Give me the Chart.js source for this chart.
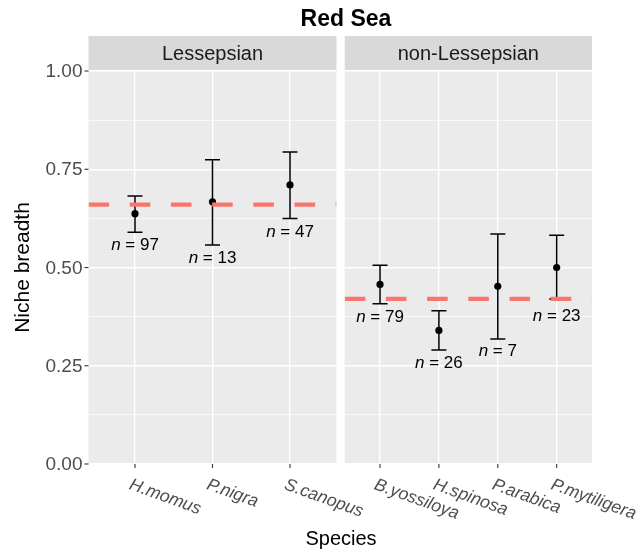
<!DOCTYPE html>
<html><head><meta charset="utf-8">
<script src="https://cdn.jsdelivr.net/npm/chart.js@4.4.1/dist/chart.umd.min.js"></script>
<style>
html,body{margin:0;padding:0;background:#fff;}
#wrap{position:relative;width:643px;height:555px;}
#wrap canvas{position:absolute;left:0;top:0;}
</style></head><body>
<div id="wrap"><canvas id="c1" width="643" height="555"></canvas><canvas id="c2" width="643" height="555"></canvas></div>
<script>
// ---- data ----
const plotTitle = "Red Sea";
const facetLabels = ["Lessepsian", "non-Lessepsian"];
const xTitle = "Species";
const yTitle = "Niche breadth";
const yMajorTicks = [0, 0.25, 0.5, 0.75, 1];
const yTickLabels = ["0.00", "0.25", "0.50", "0.75", "1.00"];
const yMinorTicks = [0.125, 0.375, 0.625, 0.875];

const lessSpecies = ["H.momus", "P.nigra", "S.canopus"];
const lessMean = [0.637, 0.667, 0.710];
const lessLower = [0.590, 0.557, 0.625];
const lessUpper = [0.682, 0.774, 0.794];
const lessN = [97, 13, 47];
const lessLabelY = [0.557, 0.524, 0.590];
const lessOverall = 0.660;

const nonSpecies = ["B.yossiloya", "H.spinosa", "P.arabica", "P.mytiligera"];
const nonMean = [0.457, 0.340, 0.452, 0.500];
const nonLower = [0.408, 0.290, 0.318, 0.420];
const nonUpper = [0.506, 0.390, 0.585, 0.582];
const nonN = [79, 26, 7, 23];
const nonLabelY = [0.373, 0.257, 0.287, 0.377];
const nonOverall = 0.420;

// ---- style ----
const FONT = "'Liberation Sans', Arial, Helvetica, sans-serif";
const W = 643, H = 555;
const PANEL_TOP = 71, PANEL_BOTTOM = 464;
const STRIP_TOP = 36;
const EXPAND = 0.6;

function makePanel(id, species, mean, lower, upper, nArr, labelY, overall, facet, left, right, first) {
  const n = species.length;
  const xmin = -EXPAND, xmax = n - 1 + EXPAND;
  const stems = [];
  species.forEach((s, i) => {
    stems.push({x: i, y: lower[i]}, {x: i, y: upper[i]}, {x: i, y: null});
  });
  const decor = {
    id: 'decor' + id,
    beforeDraw(chart) {
      const c = chart.ctx, a = chart.chartArea;
      c.save();
      c.fillStyle = '#EBEBEB';
      c.fillRect(a.left, a.top, a.right - a.left, a.bottom - a.top);
      c.fillStyle = '#D9D9D9';
      c.fillRect(a.left, STRIP_TOP, a.right - a.left, a.top - STRIP_TOP);
      c.fillStyle = '#1A1A1A';
      c.font = '20px ' + FONT;
      c.textAlign = 'center';
      c.textBaseline = 'middle';
      c.fillText(facet, (a.left + a.right) / 2, (STRIP_TOP + a.top) / 2 + 1);
      c.restore();
    },
    afterDraw(chart) {
      const c = chart.ctx, a = chart.chartArea;
      const xs = chart.scales.x, ys = chart.scales.y;
      c.save();
      // x ticks + labels
      c.strokeStyle = '#333333';
      c.lineWidth = 1.1;
      species.forEach((s, i) => {
        const px = xs.getPixelForValue(i);
        c.beginPath(); c.moveTo(px, a.bottom); c.lineTo(px, a.bottom + 4); c.stroke();
        c.save();
        c.translate(px - 2, a.bottom + 12);
        c.rotate(20 * Math.PI / 180);
        c.fillStyle = '#4D4D4D';
        c.font = 'italic 17.5px ' + FONT;
        c.textAlign = 'left';
        c.textBaseline = 'top';
        c.fillText(s, 0, 0);
        c.restore();
      });
      // n labels
      species.forEach((s, i) => {
        const px = xs.getPixelForValue(i);
        const py = ys.getPixelForValue(labelY[i]);
        const fi = 'italic 17px ' + FONT, fn = '17px ' + FONT;
        c.font = fi; const w1 = c.measureText('n').width;
        c.font = fn; const rest = ' = ' + nArr[i]; const w2 = c.measureText(rest).width;
        const x0 = px - (w1 + w2) / 2;
        c.fillStyle = '#000';
        c.textBaseline = 'middle';
        c.textAlign = 'left';
        c.font = fi; c.fillText('n', x0, py);
        c.font = fn; c.fillText(rest, x0 + w1, py);
      });
      if (first) {
        // y ticks
        yMajorTicks.forEach((v, i) => {
          const py = ys.getPixelForValue(v);
          c.strokeStyle = '#333333';
          c.beginPath(); c.moveTo(a.left - 4, py); c.lineTo(a.left, py); c.stroke();
          c.fillStyle = '#4D4D4D';
          c.font = '19px ' + FONT;
          c.textAlign = 'right';
          c.textBaseline = 'middle';
          c.fillText(yTickLabels[i], a.left - 6, py + 1);
        });
        // titles
        c.fillStyle = '#000';
        c.font = 'bold 23px ' + FONT;
        c.textAlign = 'center';
        c.textBaseline = 'alphabetic';
        c.fillText(plotTitle, 346, 26);
        c.font = '20px ' + FONT;
        c.fillText(xTitle, 341, 545);
        c.save();
        c.translate(29, (PANEL_TOP + PANEL_BOTTOM) / 2);
        c.rotate(-Math.PI / 2);
        c.font = '21px ' + FONT;
        c.textBaseline = 'alphabetic';
        c.fillText(yTitle, 0, 0);
        c.restore();
      }
      c.restore();
    }
  };
  return new Chart(document.getElementById(id), {
    type: 'line',
    data: {
      datasets: [
        { label: 'overall', data: [{x: xmin, y: overall}, {x: xmax, y: overall}],
          borderColor: '#F8766D', borderWidth: 4.2, borderDash: [20.6, 20.6], pointRadius: 0, order: 0 },
        { label: 'mean', data: mean.map((v, i) => ({x: i, y: v})), showLine: false,
          pointRadius: 3.6, pointBackgroundColor: '#000', pointBorderColor: '#000', pointBorderWidth: 0, order: 1 },
        { label: 'upper', data: upper.map((v, i) => ({x: i, y: v})), showLine: false,
          pointStyle: 'line', pointRadius: 7.5, pointBorderColor: '#000', pointBorderWidth: 1.5, order: 2 },
        { label: 'lower', data: lower.map((v, i) => ({x: i, y: v})), showLine: false,
          pointStyle: 'line', pointRadius: 7.5, pointBorderColor: '#000', pointBorderWidth: 1.5, order: 2 },
        { label: 'ci', data: stems, spanGaps: false, borderColor: '#000', borderWidth: 1.5,
          pointRadius: 0, order: 3 }
      ]
    },
    options: {
      responsive: false, animation: false, devicePixelRatio: 1,
      layout: { padding: { left: left, right: W - right, top: PANEL_TOP, bottom: H - PANEL_BOTTOM } },
      plugins: { legend: { display: false }, tooltip: { enabled: false }, title: { display: false } },
      scales: {
        x: { type: 'linear', min: xmin, max: xmax,
          afterBuildTicks: s => { s.ticks = species.map((_, i) => ({value: i})); },
          afterFit: s => { s.height = 0; },
          ticks: { display: false },
          grid: { color: '#FFFFFF', lineWidth: 1.4, drawTicks: false },
          border: { display: false } },
        y: { type: 'linear', min: 0, max: 1,
          afterBuildTicks: s => { s.ticks = yMajorTicks.concat(yMinorTicks).sort((p, q) => p - q).map(v => ({value: v})); },
          afterFit: s => { s.width = 0; },
          ticks: { display: false },
          grid: { color: '#FFFFFF', drawTicks: false,
            lineWidth: ctx => (yMajorTicks.includes(ctx.tick && ctx.tick.value) ? 1.4 : 0.7) },
          border: { display: false } }
      }
    },
    plugins: [decor]
  });
}

makePanel('c1', lessSpecies, lessMean, lessLower, lessUpper, lessN, lessLabelY, lessOverall, facetLabels[0], 88.5, 336.5, true);
makePanel('c2', nonSpecies, nonMean, nonLower, nonUpper, nonN, nonLabelY, nonOverall, facetLabels[1], 344.7, 592, false);
</script>
</body></html>
